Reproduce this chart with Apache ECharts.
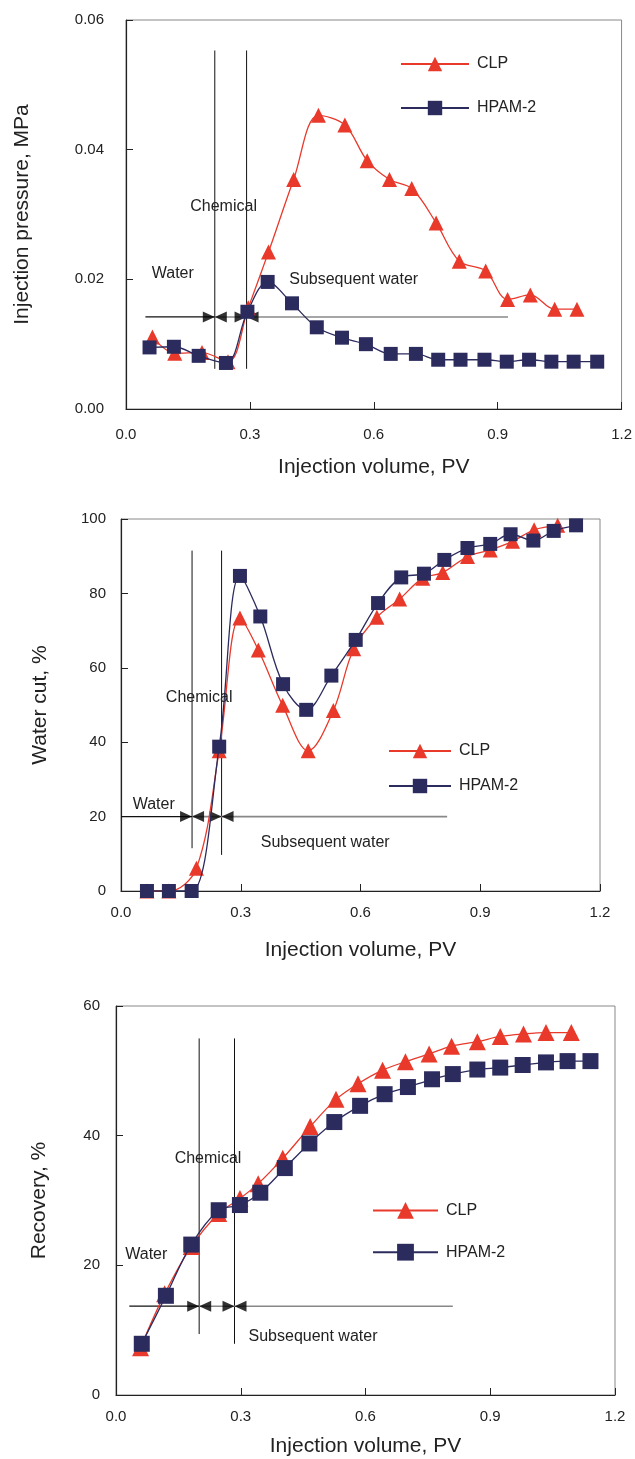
<!DOCTYPE html>
<html><head><meta charset="utf-8">
<script src="https://cdn.jsdelivr.net/npm/echarts/dist/echarts.min.js"></script>
<style>html,body{margin:0;padding:0;background:#fff}#c{width:635px;height:1459px}</style>
</head><body><div id="c"></div><script>
// ---------- Data ----------
// Chart 1: injection pressure, MPa
const p_clpX  = [0.064,0.118,0.184,0.247,0.296,0.345,0.406,0.466,0.530,0.584,0.638,0.692,0.751,0.807,0.871,0.924,0.979,1.038,1.092];
const p_clpY  = [0.0111,0.0086,0.0087,0.0073,0.0156,0.0242,0.0354,0.0453,0.0438,0.0383,0.0354,0.0340,0.0287,0.0228,0.0213,0.0169,0.0176,0.0154,0.0154];
const p_hpamX = [0.057,0.116,0.176,0.242,0.294,0.343,0.402,0.462,0.523,0.581,0.641,0.702,0.756,0.810,0.868,0.922,0.976,1.030,1.084,1.141];
const p_hpamY = [0.0095,0.0096,0.0082,0.0071,0.0150,0.0196,0.0163,0.0126,0.0110,0.0100,0.0085,0.0085,0.0076,0.0076,0.0076,0.0073,0.0076,0.0073,0.0073,0.0073];
// Chart 2: water cut, %
const w_clpX  = [0.065,0.120,0.189,0.246,0.298,0.344,0.405,0.469,0.532,0.583,0.641,0.698,0.756,0.806,0.868,0.925,0.981,1.035,1.094];
const w_clpY  = [0,0,6.1,37.7,73.4,64.8,49.9,37.7,48.5,65.1,73.6,78.5,84.1,85.6,89.9,91.7,94.0,97.1,98.3];
const w_hpamX = [0.065,0.120,0.177,0.246,0.298,0.349,0.406,0.464,0.527,0.588,0.644,0.702,0.759,0.810,0.868,0.925,0.976,1.033,1.084,1.140];
const w_hpamY = [0,0,0,38.8,84.7,73.8,55.6,48.7,57.9,67.5,77.4,84.3,85.3,89.0,92.2,93.3,95.9,94.2,96.8,98.3];
// Chart 3: recovery, %
const r_clpX  = [0.059,0.117,0.181,0.247,0.298,0.342,0.401,0.467,0.529,0.582,0.641,0.696,0.753,0.807,0.869,0.924,0.980,1.034,1.095];
const r_clpY  = [7.3,15.6,22.9,28.0,30.3,32.6,36.5,41.4,45.6,48.0,50.1,51.4,52.6,53.8,54.5,55.3,55.7,55.9,55.9];
const r_hpamX = [0.062,0.120,0.181,0.247,0.298,0.347,0.406,0.465,0.525,0.587,0.646,0.702,0.760,0.810,0.869,0.924,0.978,1.034,1.086,1.141];
const r_hpamY = [7.9,15.3,23.2,28.5,29.3,31.2,35.0,38.8,42.1,44.6,46.4,47.5,48.7,49.5,50.2,50.5,50.9,51.3,51.5,51.5];

// Phase boundaries (PV) and annotation extents, in data units
const p_phase = [0.215, 0.292];  const p_vlineY = [[0.0062,0.0553],[0.0062,0.0553]]; const p_arrowY = 0.0142; const p_arrowX = [0.047, 0.925];
const w_phase = [0.178, 0.252];  const w_vlineY = [[11.5,91.5],[9.7,91.5]];         const w_arrowY = 20;     const w_arrowX = [0.0, 0.817];
const r_phase = [0.200, 0.285];  const r_vlineY = [[9.4,55.0],[7.9,55.0]];          const r_arrowY = 13.7;   const r_arrowX = [0.032, 0.810];

const seriesNames = ['CLP','HPAM-2'];
const xName = 'Injection volume, PV';
const yNames = ['Injection pressure, MPa','Water cut, %','Recovery, %'];
const phaseLabels = ['Water','Chemical','Subsequent water'];

// ---------- Chart ----------
const RED = '#E8392B', NAVY = '#2C2B5E';
const FONT = '"Liberation Sans", Arial, sans-serif';
const zip = (a,b) => a.map((v,i)=>[v,b[i]]);
const chart = echarts.init(document.getElementById('c'), null, {renderer:'canvas'});

const grids = [
  {left:126, right:12, top:20,  height:389},
  {left:121, right:35, top:519, height:372},
  {left:116, right:20, top:1006,height:389}
];
const yCfg = [
  {min:0,max:0.06,interval:0.02,fmt:v=>v.toFixed(2),margin:22,gap:93},
  {min:0,max:100,interval:20,fmt:v=>String(v),margin:15,gap:70},
  {min:0,max:60,interval:20,fmt:v=>String(v),margin:16,gap:66}
];
const xLabelMargin = [18,14,14];
const xNameGap = [48,49,41];

const xAxes = grids.map((g,i)=>({
  type:'value', gridIndex:i, min:0, max:1.2, interval:0.3,
  axisLine:{show:true,lineStyle:{color:'#222',width:1.2}},
  axisTick:{show:true,inside:true,length:7,lineStyle:{color:'#222'}},
  splitLine:{show:false},
  axisLabel:{formatter:v=>v.toFixed(1),fontSize:15,color:'#222',fontFamily:FONT,margin:xLabelMargin[i]},
  name:xName, nameLocation:'middle', nameGap:xNameGap[i],
  nameTextStyle:{fontSize:21,color:'#222',fontFamily:FONT}
}));
const yAxes = grids.map((g,i)=>({
  type:'value', gridIndex:i, min:yCfg[i].min, max:yCfg[i].max, interval:yCfg[i].interval,
  axisLine:{show:true,lineStyle:{color:'#222',width:1.2}},
  axisTick:{show:true,inside:true,length:7,lineStyle:{color:'#222'}},
  splitLine:{show:false},
  axisLabel:{formatter:yCfg[i].fmt,fontSize:15,color:'#222',fontFamily:FONT,margin:yCfg[i].margin},
  name:yNames[i], nameLocation:'middle', nameGap:yCfg[i].gap, nameRotate:90,
  nameTextStyle:{fontSize:21,color:'#222',fontFamily:FONT}
}));

const sets = [
  {clp:zip(p_clpX,p_clpY), hpam:zip(p_hpamX,p_hpamY), phase:p_phase, vy:p_vlineY, ay:p_arrowY, ax:p_arrowX, msz:14},
  {clp:zip(w_clpX,w_clpY), hpam:zip(w_hpamX,w_hpamY), phase:w_phase, vy:w_vlineY, ay:w_arrowY, ax:w_arrowX, msz:14},
  {clp:zip(r_clpX,r_clpY), hpam:zip(r_hpamX,r_hpamY), phase:r_phase, vy:r_vlineY, ay:r_arrowY, ax:r_arrowX, msz:16}
];

const series = [];
sets.forEach((s,i)=>{
  s.phase.forEach((px,k)=>{
    series.push({type:'line',xAxisIndex:i,yAxisIndex:i,data:[[px,s.vy[k][0]],[px,s.vy[k][1]]],
      symbol:'none',silent:true,z:1,lineStyle:{color:'#111',width:1},animation:false});
  });
  series.push({type:'line',xAxisIndex:i,yAxisIndex:i,data:[[s.ax[0],s.ay],[s.phase[0],s.ay]],
    symbol:'none',silent:true,z:1,lineStyle:{color:'#111',width:1.2},animation:false});
  series.push({type:'line',xAxisIndex:i,yAxisIndex:i,data:[[s.phase[0],s.ay],[s.ax[1],s.ay]],
    symbol:'none',silent:true,z:1,lineStyle:{color:'#888',width:1.6},animation:false});
  series.push({type:'scatter',xAxisIndex:i,yAxisIndex:i,data:s.phase.map(px=>[px,s.ay]),
    symbol:'path://M0,0L10,5L0,10Z',symbolSize:[12,11],symbolOffset:[-6,0],silent:true,z:2,
    itemStyle:{color:'#000'},animation:false});
  series.push({type:'scatter',xAxisIndex:i,yAxisIndex:i,data:s.phase.map(px=>[px,s.ay]),
    symbol:'path://M10,0L0,5L10,10Z',symbolSize:[12,11],symbolOffset:[6,0],silent:true,z:2,
    itemStyle:{color:'#000'},animation:false});
  series.push({name:seriesNames[0],type:'line',xAxisIndex:i,yAxisIndex:i,data:s.clp,smooth:0.35,
    symbol:'triangle',symbolSize:s.msz+1,showAllSymbol:true,z:3,
    itemStyle:{color:RED},lineStyle:{color:RED,width:1.3},animation:false});
  series.push({name:seriesNames[1],type:'line',xAxisIndex:i,yAxisIndex:i,data:s.hpam,smooth:0.35,
    symbol:'rect',symbolSize:s.msz,showAllSymbol:true,z:4,
    itemStyle:{color:NAVY},lineStyle:{color:NAVY,width:1.3},animation:false});
});

const legends = [
  {left:395, top:51,  itemWidth:68, itemHeight:18, itemGap:28},
  {left:383, top:738, itemWidth:62, itemHeight:18, itemGap:19},
  {left:367, top:1197,itemWidth:65, itemHeight:21, itemGap:25}
].map(l=>({show:true,orient:'vertical',left:l.left,top:l.top,itemWidth:l.itemWidth,itemHeight:l.itemHeight,itemGap:l.itemGap,
  data:seriesNames,selectedMode:false,textStyle:{fontSize:16,color:'#222',fontFamily:FONT,padding:[0,0,0,3]}}));

const textPos = [
  [[172.8,274],[223.6,207],[353.7,280]],
  [[153.7,805],[199.2,698],[325.2,843]],
  [[146.3,1255],[208,1159],[313,1337]]
];
const graphics = [];
textPos.forEach(tp=>tp.forEach((p,k)=>{
  graphics.push({type:'text',x:p[0],y:p[1],silent:true,z:10,
    style:{text:phaseLabels[k],fill:'#222',font:'16px '+FONT,textAlign:'center',textVerticalAlign:'middle'}});
}));

chart.setOption({
  animation:false,
  backgroundColor:'#fff',
  grid:grids.map(g=>Object.assign({show:true,borderColor:'#888',borderWidth:1,backgroundColor:'transparent'},g)),
  xAxis:xAxes, yAxis:yAxes, series:series, legend:legends, graphic:graphics
});
</script></body></html>
